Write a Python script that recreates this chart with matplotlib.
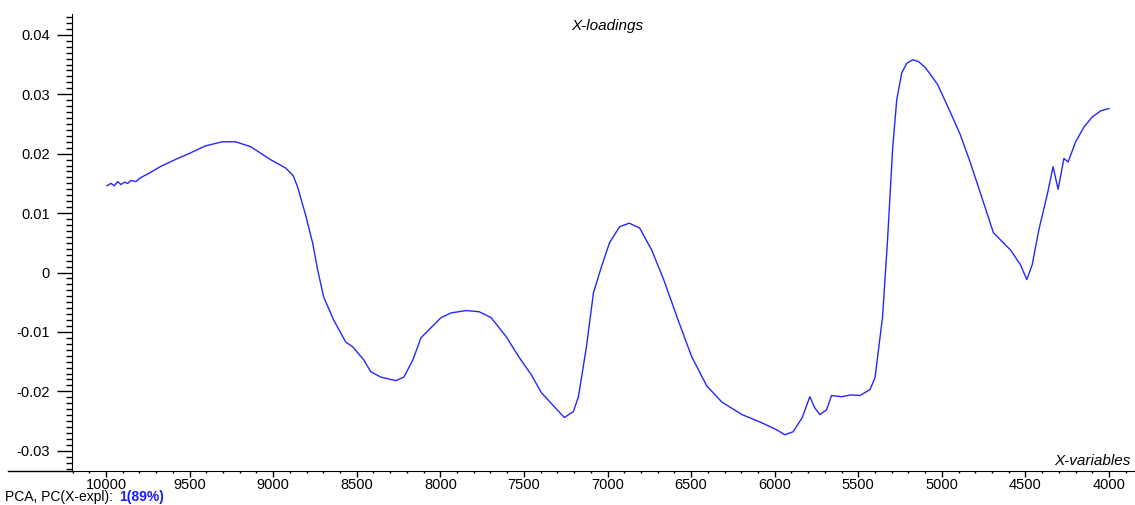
import matplotlib.pyplot as plt
from matplotlib.lines import Line2D
from matplotlib.ticker import MultipleLocator

plt.rcParams['font.family'] = ['Liberation Sans', 'DejaVu Sans']

# X-loadings of PC1 (wavenumber, loading)
wavenumber = [9994, 9970, 9950, 9930, 9910, 9890, 9870, 9850, 9820, 9796,
              9736, 9676, 9586, 9496, 9406, 9304, 9226, 9136, 9016, 8926,
              8880, 8854, 8806, 8764, 8734, 8698, 8638, 8566, 8524, 8458, 8416,
              8356, 8266, 8218, 8164, 8116, 8056, 7996, 7936, 7846, 7768,
              7696, 7606, 7528, 7456, 7396, 7318, 7258, 7204, 7174, 7126,
              7084, 7036, 6988, 6928, 6870, 6808, 6736, 6664, 6574, 6496,
              6406, 6316, 6196, 6076, 5986, 5940, 5890, 5835, 5790, 5760,
              5730, 5690, 5660, 5600, 5545, 5490, 5430, 5400, 5355, 5325,
              5295, 5270, 5240, 5210, 5175, 5140, 5100, 5060, 5025, 4950, 4890, 4830, 4770,
              4692, 4590, 4530, 4492, 4460, 4420, 4370, 4335, 4305, 4270,
              4245, 4200, 4150, 4100, 4050, 4000]
loading = [0.0146, 0.0150, 0.0146, 0.0153, 0.0148, 0.0152, 0.0150, 0.0155, 0.0153, 0.0159,
           0.0168, 0.0178, 0.0190, 0.0201, 0.0213, 0.0220, 0.0220, 0.0212, 0.0190, 0.0176,
           0.0163, 0.0144, 0.0097, 0.0050, 0.0005, -0.0041, -0.0080, -0.0117, -0.0125, -0.0147, -0.0167,
           -0.0176, -0.0182, -0.0176, -0.0147, -0.0110, -0.0093, -0.0076, -0.0068, -0.0064, -0.0066,
           -0.0076, -0.0108, -0.0143, -0.0172, -0.0202, -0.0226, -0.0244, -0.0234, -0.0209, -0.0125,
           -0.0034, 0.0010, 0.0050, 0.0077, 0.0083, 0.0075, 0.0038, -0.0012, -0.0083, -0.0142,
           -0.0191, -0.0218, -0.0239, -0.0253, -0.0265, -0.0273, -0.0268, -0.0244, -0.0209, -0.0228,
           -0.0239, -0.0231, -0.0207, -0.0209, -0.0206, -0.0207, -0.0197, -0.0177, -0.0075, 0.0055,
           0.0207, 0.0291, 0.0336, 0.0352, 0.0358, 0.0355, 0.0345, 0.0330, 0.0316, 0.0270, 0.0232, 0.0185, 0.0134,
           0.0067, 0.0038, 0.0013, -0.0012, 0.0013, 0.0072, 0.0131, 0.0178, 0.0140, 0.0192,
           0.0186, 0.0220, 0.0245, 0.0262, 0.0272, 0.0276]

xticks = [10000, 9500, 9000, 8500, 8000, 7500, 7000, 6500, 6000, 5500, 5000, 4500, 4000]
yticks = [-0.03, -0.02, -0.01, 0, 0.01, 0.02, 0.03, 0.04]
ylabels = ['-0.03', '-0.02', '-0.01', '0', '0.01', '0.02', '0.03', '0.04']

fig = plt.figure(figsize=(11.35, 5.05), dpi=100)
ax = fig.add_axes([72 / 1135, 1 - 471 / 505, 1 - 72 / 1135, (471 - 14) / 505])

ax.plot(wavenumber, loading, color='#2626ff', lw=1.0)

ax.set_xlim(10203, 3845)
ax.set_ylim(-0.0334, 0.0435)
ax.set_xticks(xticks)
ax.set_yticks(yticks)
ax.set_yticklabels(ylabels)
ax.xaxis.set_minor_locator(MultipleLocator(100))
ax.yaxis.set_minor_locator(MultipleLocator(0.001))

ax.spines['top'].set_visible(False)
ax.spines['right'].set_visible(False)

ax.tick_params(axis='y', which='major', length=11, width=1, pad=5, labelsize=10.5)
ax.tick_params(axis='y', which='minor', length=4.5, width=1)
ax.tick_params(axis='x', which='major', length=4, width=1, pad=1, labelsize=10.5)
ax.tick_params(axis='x', which='minor', length=1.5, width=1)

# axis line continues to the left of the y spine
fig.add_artist(Line2D([8 / 1135, 72 / 1135], [1 - 471 / 505, 1 - 471 / 505],
                      color='black', lw=1, transform=fig.transFigure))

fig.text(607 / 1135, 1 - 26 / 505, 'X-loadings', style='italic', fontsize=11,
         ha='center', va='center')
fig.text(1131 / 1135, 1 - 461 / 505, 'X-variables', style='italic', fontsize=11,
         ha='right', va='center')

status = fig.text(5 / 1135, 0.5 / 505, 'PCA, PC(X-expl): ', fontsize=10,
                  ha='left', va='bottom')
ax.annotate('1(89%)', xy=(1, 0), xycoords=status, xytext=(2, 0),
            textcoords='offset points', fontsize=10, color='#1a1aff',
            fontweight='bold', ha='left', va='bottom')

fig.savefig('out.png', dpi=100)
